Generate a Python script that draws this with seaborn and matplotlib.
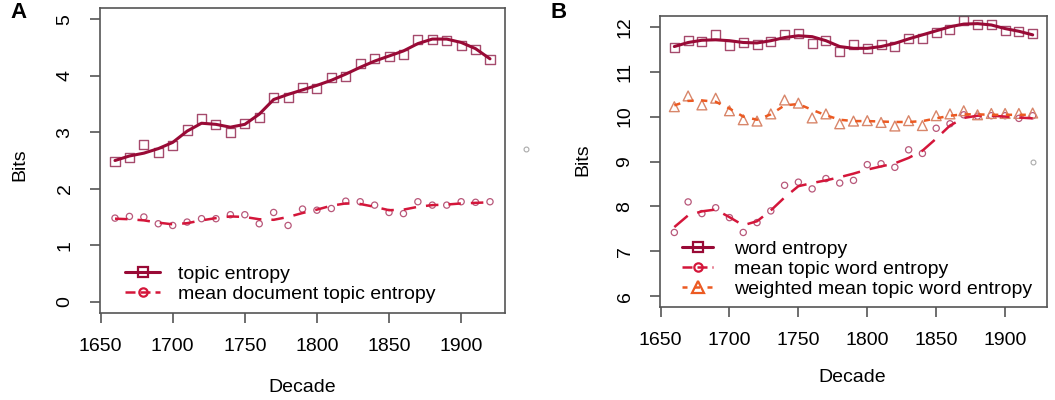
import numpy as np
import pandas as pd
import matplotlib
matplotlib.use("Agg")
import matplotlib.pyplot as plt
from matplotlib.lines import Line2D
import seaborn as sns

# decades on the x axis
decades = list(range(1660, 1921, 10))

# panel A: raw points and smoothed curves
topic_entropy = [2.48, 2.55, 2.79, 2.65, 2.77, 3.04, 3.25, 3.14, 2.99, 3.16, 3.27,
                 3.62, 3.61, 3.80, 3.77, 3.97, 3.99, 4.21, 4.30, 4.34, 4.37,
                 4.64, 4.65, 4.63, 4.54, 4.46, 4.29]
topic_entropy_smooth = [2.50, 2.58, 2.63, 2.71, 2.82, 3.02, 3.16, 3.14, 3.09, 3.14, 3.32,
                        3.58, 3.67, 3.75, 3.83, 3.92, 4.03, 4.15, 4.26, 4.35, 4.44,
                        4.57, 4.65, 4.65, 4.59, 4.48, 4.30]
doc_topic_entropy = [1.48, 1.51, 1.50, 1.38, 1.35, 1.41, 1.47, 1.47, 1.54, 1.54, 1.38,
                     1.58, 1.35, 1.64, 1.62, 1.65, 1.78, 1.77, 1.71, 1.58, 1.56,
                     1.77, 1.71, 1.71, 1.77, 1.76, 1.77]
doc_topic_entropy_smooth = [1.47, 1.46, 1.44, 1.40, 1.37, 1.39, 1.44, 1.48, 1.51, 1.50, 1.46,
                            1.45, 1.50, 1.57, 1.63, 1.70, 1.74, 1.73, 1.68, 1.62, 1.63,
                            1.68, 1.71, 1.72, 1.74, 1.75, 1.76]

# panel B
word_entropy = [11.53, 11.70, 11.68, 11.82, 11.59, 11.64, 11.61, 11.67, 11.82, 11.85,
                11.62, 11.69, 11.45, 11.60, 11.52, 11.60, 11.56, 11.74, 11.75, 11.87,
                11.95, 12.13, 12.06, 12.06, 11.91, 11.89, 11.84]
word_entropy_smooth = [11.56, 11.65, 11.70, 11.71, 11.69, 11.65, 11.64, 11.69, 11.76, 11.80,
                       11.78, 11.69, 11.56, 11.52, 11.52, 11.56, 11.63, 11.73, 11.82, 11.91,
                       12.00, 12.06, 12.07, 12.04, 11.96, 11.90, 11.82]
topic_word_entropy = [7.42, 8.10, 7.84, 7.97, 7.75, 7.42, 7.64, 7.90, 8.47, 8.54,
                      8.39, 8.62, 8.52, 8.58, 8.93, 8.95, 8.87, 9.26, 9.18, 9.74,
                      9.84, 10.04, 10.01, 10.02, 10.02, 9.96, 10.02]
topic_word_entropy_smooth = [7.54, 7.80, 7.89, 7.93, 7.76, 7.58, 7.67, 7.91, 8.20, 8.45,
                             8.52, 8.58, 8.65, 8.73, 8.82, 8.89, 8.96, 9.08, 9.24, 9.51,
                             9.80, 9.97, 10.02, 10.02, 10.00, 9.98, 9.96]
weighted_entropy = [10.22, 10.46, 10.26, 10.41, 10.13, 9.93, 9.90, 10.06, 10.37, 10.30,
                    9.97, 10.06, 9.84, 9.90, 9.91, 9.87, 9.79, 9.91, 9.80, 10.02,
                    10.06, 10.13, 10.04, 10.07, 10.07, 10.07, 10.08]
weighted_entropy_smooth = [10.25, 10.35, 10.36, 10.33, 10.18, 10.00, 9.93, 10.05, 10.25, 10.28,
                           10.15, 10.03, 9.93, 9.90, 9.90, 9.89, 9.88, 9.88, 9.90, 9.96,
                           10.02, 10.05, 10.05, 10.04, 10.04, 10.04, 10.04]

# stray grey points in each panel
stray_a = (1945, 2.70)
stray_b = (1920, 9.0)

sns.set_style("white")
plt.rcParams['font.family'] = ['Liberation Sans', 'DejaVu Sans']
plt.rcParams['font.size'] = 14
plt.rcParams['text.color'] = 'black'
plt.rcParams['xtick.color'] = 'black'
plt.rcParams['ytick.color'] = 'black'

dark_red = "#990a36"
dark_red_pts = "#a54a6c"
red = "#d4163a"
red_pts = "#b8587a"
orange = "#ec5a22"
orange_pts = "#d8866a"

FS = 14

fig = plt.figure(figsize=(10.55, 4), dpi=100)
ax_a = fig.add_axes([100 / 1055, 1 - 313 / 400, 405 / 1055, 305 / 400])
ax_b = fig.add_axes([660 / 1055, 1 - 307 / 400, 387 / 1055, 291 / 400])


def style_axis(ax, xlim, ylim, yticks):
    ax.set_xlim(*xlim)
    ax.set_ylim(*ylim)
    ax.set_xticks([1650, 1700, 1750, 1800, 1850, 1900])
    ax.set_yticks(yticks)
    ax.set_xlabel("")
    ax.set_ylabel("")
    for s in ax.spines.values():
        s.set_color("#555555")
        s.set_linewidth(1.2)
    ax.tick_params(axis="both", direction="out", length=7, width=1.2,
                   color="#555555", labelsize=FS, labelcolor="black",
                   left=True, bottom=True)
    ax.tick_params(axis="x", pad=11)
    ax.tick_params(axis="y", pad=12)
    for lab in ax.get_yticklabels():
        lab.set_rotation(90)
        lab.set_va("center")


# ---- panel A
sns.lineplot(x=decades, y=topic_entropy_smooth, ax=ax_a, color=dark_red, lw=2.2)
sns.lineplot(x=decades, y=doc_topic_entropy_smooth, ax=ax_a, color=red, lw=1.8,
             linestyle=(0, (5, 4)))
sns.scatterplot(x=decades, y=topic_entropy, ax=ax_a, marker="s", s=42,
                facecolor="none", edgecolor=dark_red_pts, linewidth=1.0)
sns.scatterplot(x=decades, y=doc_topic_entropy, ax=ax_a, marker="o", s=20,
                facecolor="none", edgecolor=red_pts, linewidth=0.9)
ax_a.plot([stray_a[0]], [stray_a[1]], "o", ms=3.5, mfc="none", mec="#aaaaaa",
          mew=0.8, clip_on=False)
style_axis(ax_a, (1649.6, 1930.4), (-0.2, 5.2), [0, 1, 2, 3, 4, 5])

handles_a = [
    Line2D([], [], color=dark_red, lw=2.2, marker="s", ms=7, mfc="none", mew=1.6),
    Line2D([], [], color=red, lw=1.8, ls=(0, (4, 2)), marker="o", ms=6, mfc="none", mew=1.6),
]
ax_a.legend(handles_a, ["topic entropy", "mean document topic entropy"],
            loc="upper left", bbox_to_anchor=(125 / 1055, 1 - 265 / 400),
            bbox_transform=fig.transFigure, frameon=False, borderpad=0,
            borderaxespad=0, handlelength=1.8, handletextpad=0.95,
            labelspacing=0.15, fontsize=FS)

# ---- panel B
sns.lineplot(x=decades, y=word_entropy_smooth, ax=ax_b, color=dark_red, lw=2.2)
sns.lineplot(x=decades, y=topic_word_entropy_smooth, ax=ax_b, color=red, lw=1.8,
             linestyle=(0, (7, 4)))
sns.lineplot(x=decades, y=weighted_entropy_smooth, ax=ax_b, color=orange, lw=1.8,
             linestyle=(0, (2.5, 3)))
sns.scatterplot(x=decades, y=word_entropy, ax=ax_b, marker="s", s=42,
                facecolor="none", edgecolor=dark_red_pts, linewidth=1.0)
sns.scatterplot(x=decades, y=topic_word_entropy, ax=ax_b, marker="o", s=20,
                facecolor="none", edgecolor=red_pts, linewidth=0.9)
sns.scatterplot(x=decades, y=weighted_entropy, ax=ax_b, marker="^", s=50,
                facecolor="none", edgecolor=orange_pts, linewidth=1.0)
ax_b.plot([stray_b[0]], [stray_b[1]], "o", ms=3.5, mfc="none", mec="#aaaaaa",
          mew=0.8, clip_on=False)
style_axis(ax_b, (1649.6, 1930.4), (5.76, 12.24), [6, 7, 8, 9, 10, 11, 12])

handles_b = [
    Line2D([], [], color=dark_red, lw=2.2, marker="s", ms=7, mfc="none", mew=1.6),
    Line2D([], [], color=red, lw=1.8, ls=(0, (4, 2)), marker="o", ms=6, mfc="none", mew=1.6),
    Line2D([], [], color=orange, lw=1.8, ls=(0, (2, 3)), marker="^", ms=8, mfc="none", mew=1.6),
]
ax_b.legend(handles_b, ["word entropy", "mean topic word entropy",
                        "weighted mean topic word entropy"],
            loc="upper left", bbox_to_anchor=(682 / 1055, 1 - 240 / 400),
            bbox_transform=fig.transFigure, frameon=False, borderpad=0,
            borderaxespad=0, handlelength=1.6, handletextpad=1.1,
            labelspacing=0.14, fontsize=FS)

# panel letters and axis titles
fig.text(10 / 1055, 1 - 12 / 400, "A", fontsize=16, fontweight="bold", va="center")
fig.text(551 / 1055, 1 - 12 / 400, "B", fontsize=16, fontweight="bold", va="center")
fig.text(20 / 1055, 1 - 165 / 400, "Bits", rotation=90, ha="center", va="center", fontsize=FS)
fig.text(583 / 1055, 1 - 160 / 400, "Bits", rotation=90, ha="center", va="center", fontsize=FS)
fig.text(302 / 1055, 1 - 387 / 400, "Decade", ha="center", va="center", fontsize=FS)
fig.text(852 / 1055, 1 - 378 / 400, "Decade", ha="center", va="center", fontsize=FS)

fig.savefig("out.png", dpi=100)
